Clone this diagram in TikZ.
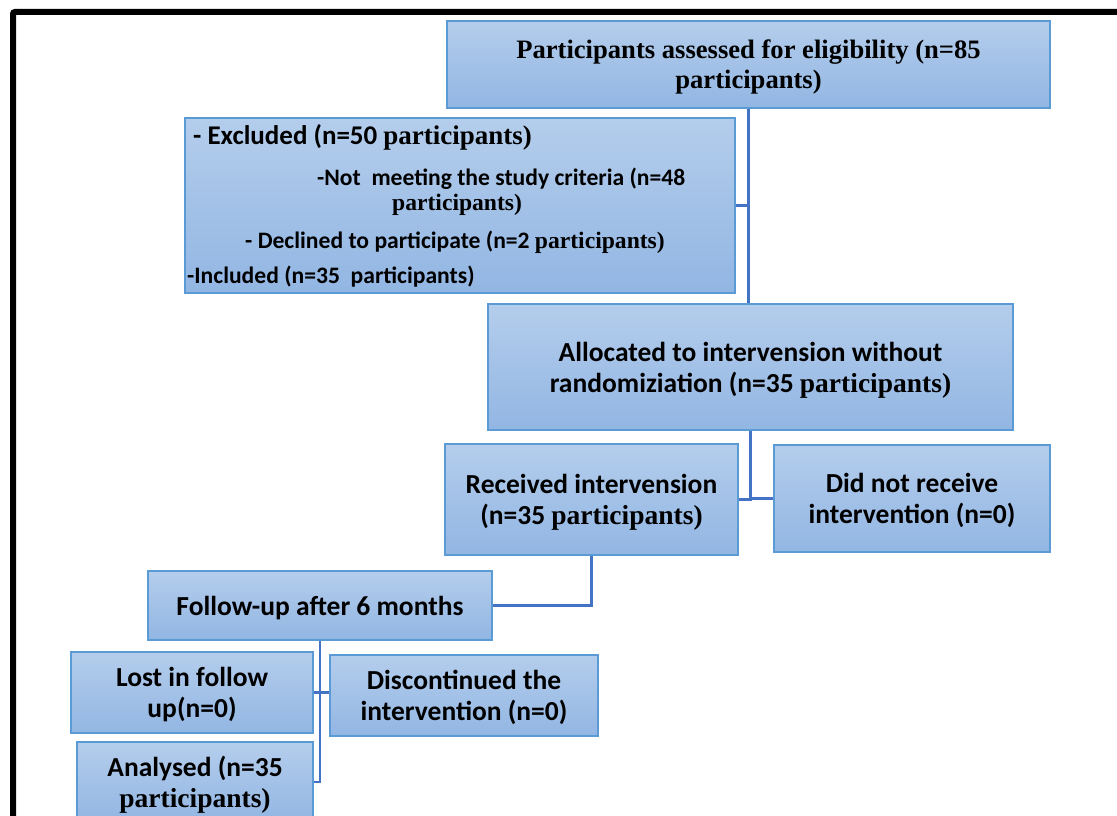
\documentclass[tikz,border=0pt]{standalone}
\usepackage{fontspec}
\setmainfont{Carlito}
\newfontfamily\sr{Liberation Serif}
\usetikzlibrary{calc}
\definecolor{boxtop}{RGB}{180,205,236}
\definecolor{boxbot}{RGB}{146,182,227}
\definecolor{boxline}{RGB}{91,155,213}
\definecolor{linkcol}{RGB}{68,114,196}
\tikzset{
  flowbox/.style={draw=boxline, line width=1.6pt, top color=boxtop, bottom color=boxbot,
    align=center, inner sep=2pt, text depth=0pt, font=\bfseries\fontsize{27.5}{31}\selectfont},
  subtext/.style={anchor=west, inner sep=0pt, font=\bfseries\fontsize{23.6}{27}\selectfont},
  link/.style={draw=linkcol, line width=2.2pt}
}
\begin{document}
\begin{tikzpicture}[x=1pt,y=-1pt]
\clip (0,0) rectangle (1117,816);
\fill[white] (0,0) rectangle (1117,816);
% outer frame (top and left edges)
\draw[line width=6pt, rounded corners=2pt] (13,830) -- (13,12) -- (1130,12);

% boxes
\node[flowbox, font=\bfseries\fontsize{26.6}{30}\selectfont, minimum width=603pt, minimum height=87pt] (assess) at (748.5,64.5)
  {{\sr Participants assessed for eligibility (n=85}\\{\sr participants)}};
\node[flowbox, minimum width=550pt, minimum height=175pt] (excl) at (460,205.5) {};
\node[subtext, font=\bfseries\fontsize{27}{30}\selectfont] (ex1) at (193,137) {- Excluded (n=50 {\sr participants)}};
\node[subtext] (ex2) at (317,179) {-Not\ \ meeting the study criteria (n=48};
\node[subtext] (ex3) at (392,205) {{\sr participants)}};
\node[subtext] (ex4) at (245,242) {- Declined to participate (n=2 {\sr participants)}};
\node[subtext] (ex5) at (187,277) {-Included (n=35\ \ participants)};

\node[flowbox, minimum width=525pt, minimum height=126pt] (alloc) at (750.5,367)
  {Allocated to intervension without\\randomiziation (n=35 {\sr participants)}};
\node[flowbox, minimum width=293pt, minimum height=111pt] (recv) at (591.5,499.5)
  {Received intervension\\(n=35 {\sr participants)}};
\node[flowbox, minimum width=276pt, minimum height=107pt] (norecv) at (912,498.5)
  {Did not receive\\intervention (n=0)};
\node[flowbox, minimum width=344pt, minimum height=69pt] (follow) at (320,605.5)
  {Follow-up after 6 months};
\node[flowbox, minimum width=242pt, minimum height=81pt] (lost) at (192,692.5)
  {Lost in follow\\up(n=0)};
\node[flowbox, minimum width=268pt, minimum height=81pt] (disc) at (464,695.5)
  {Discontinued the\\intervention (n=0)};
\node[flowbox, minimum width=236pt, minimum height=80pt] (anal) at (195,782)
  {Analysed (n=35\\{\sr participants)}};

% connectors
\draw[link] (assess.south) -- (assess.south |- alloc.north);
\draw[link] (excl.east) -- (excl.east -| assess.south);
\draw[link] (alloc.south) |- (recv.east);
\draw[link] (alloc.south |- norecv.west) -- (norecv.west);
\draw[link] (recv.south) |- (follow.east);
\draw[link] (follow.south) |- (anal.east);
\draw[link] (lost.east) -- (lost.east -| disc.west);
\end{tikzpicture}
\end{document}
